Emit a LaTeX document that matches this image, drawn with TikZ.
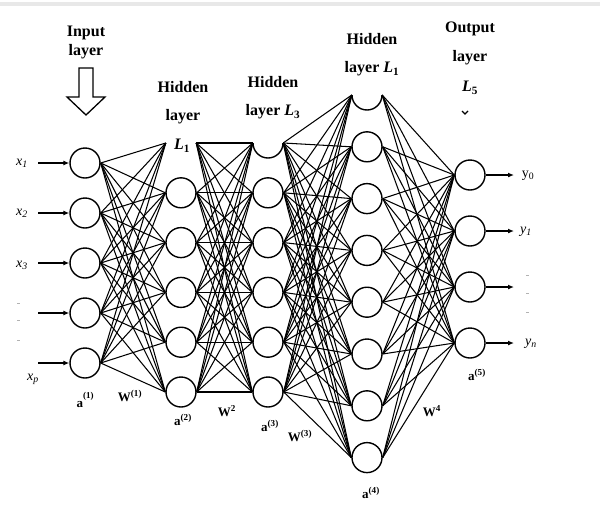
\documentclass[tikz,border=0pt]{standalone}
\usepackage{fontspec}
\setmainfont{Liberation Serif}
\usetikzlibrary{arrows.meta,calc,backgrounds}
\begin{document}
\begin{tikzpicture}[x=1pt,y=-1pt,
  neuron/.style={circle,draw,line width=1.4pt,fill=white,minimum size=30pt,inner sep=0pt},
  ghost/.style={circle,minimum size=30pt,inner sep=0pt},
  edge/.style={line width=1.05pt},
  io/.style={line width=1.3pt,-{Latex[length=6pt,width=5pt]}},
  lbl/.style={font=\fontsize{16}{16}\selectfont\bfseries,inner sep=0pt},
  var/.style={font=\fontsize{14}{14}\selectfont\itshape,inner sep=0pt},
  wlbl/.style={font=\fontsize{13}{13}\selectfont\bfseries,inner sep=0pt},
  dotm/.style={fill=gray!60}]

\useasboundingbox (0,0) rectangle (600,504);

% ---- layer 1 (input)
\foreach \i in {1,...,5}
  \node[neuron] (a\i) at (85,{163+50*(\i-1)}) {};
% ---- layer 2
\node[ghost] (b1) at (181,143) {};
\foreach \i in {2,...,6}
  \node[neuron] (b\i) at (181,{143+49.8*(\i-1)}) {};
% ---- layer 3
\node[ghost] (c1) at (268,143) {};
\foreach \i in {2,...,6}
  \node[neuron] (c\i) at (268,{143+49.8*(\i-1)}) {};
% ---- layer 4
\node[ghost] (d1) at (367,95) {};
\foreach \i in {2,...,8}
  \node[neuron] (d\i) at (367,{95+51.8*(\i-1)}) {};
% ---- layer 5 (output)
\foreach \i in {1,...,4}
  \node[neuron] (e\i) at (470,{175+56*(\i-1)}) {};

% half circles of the top nodes
\begin{scope}
  \clip ($(c1.west)+(-2,0)$) rectangle ($(c1.east)+(2,18)$);
  \draw[line width=1.4pt] (c1.center) circle[radius=15pt];
\end{scope}
\begin{scope}
  \clip ($(d1.west)+(-2,0)$) rectangle ($(d1.east)+(2,18)$);
  \draw[line width=1.4pt] (d1.center) circle[radius=15pt];
\end{scope}

% ---- connectors
\begin{scope}[on background layer]
  \fill[white] (0,0) rectangle (600,504);
  \fill[gray!18] (0,2) rectangle (600,6);
  \foreach \i in {1,...,5} \foreach \j in {1,...,6}
    \draw[edge] (a\i.east) -- (b\j.west);
  \foreach \i in {1,...,6} \foreach \j in {1,...,6}
    \draw[edge] (b\i.east) -- (c\j.west);
  \foreach \i in {1,...,6} \foreach \j in {1,...,8}
    \draw[edge] (c\i.east) -- (d\j.west);
  \foreach \i in {1,...,8} \foreach \j in {1,...,4}
    \draw[edge] (d\i.east) -- (e\j.west);
\end{scope}

% ---- input arrows
\foreach \i in {1,...,5} {
  \coordinate (xi\i) at (38,{163+50*(\i-1)});
  \draw[io] (xi\i) -- (a\i.west);
}
% ---- output arrows
\foreach \i in {1,...,4} {
  \coordinate (yo\i) at (514,{175+56*(\i-1)});
  \draw[io] (e\i.east) -- (yo\i);
}

% ---- input labels
\node[var] (lx1) at (22,163) {x\textsubscript{1}};
\node[var] (lx2) at (22,213) {x\textsubscript{2}};
\node[var] (lx3) at (22,265) {x\textsubscript{3}};
\node[var] (lxp) at (33,379) {x\textsubscript{p}};
\fill[dotm] (16.5,302.5) rectangle (19.5,304);
\fill[dotm] (16.5,319.5) rectangle (19.5,321);
\fill[dotm] (16.5,339.5) rectangle (19.5,341);

% ---- output labels
\node[var,font=\fontsize{14}{14}\selectfont] (ly0) at (528,176) {y\textsubscript{0}};
\node[var] (ly1) at (526,232) {y\textsubscript{1}};
\node[var] (lyn) at (531,344) {y\textsubscript{n}};
\fill[dotm] (526,274.5) rectangle (529,276);
\fill[dotm] (526,292.5) rectangle (529,294);
\fill[dotm] (526,311.5) rectangle (529,313);

% ---- top labels
\node[lbl] (tin1) at (86,33) {Input};
\node[lbl] (tin2) at (86,52) {layer};
\draw[line width=1.3pt,fill=white]
  (79,68) -- (93,68) -- (93,97) -- (105,97) -- (86,115) -- (67,97) -- (79,97) -- cycle;

\node[lbl] (th1a) at (183,87) {Hidden};
\node[lbl] (th1b) at (183,117) {layer};
\node[lbl] (th1c) at (182,146) {\textit{L}\textsubscript{1}};

\node[lbl] (th2a) at (273,82) {Hidden};
\node[lbl] (th2b) at (273,112) {layer \textit{L}\textsubscript{3}};

\node[lbl] (th3a) at (372,39) {Hidden};
\node[lbl] (th3b) at (372,69) {layer \textit{L}\textsubscript{1}};

\node[lbl] (tout1) at (470,29) {Output};
\node[lbl] (tout2) at (470,58) {layer};
\node[lbl] (tout3) at (470,88) {\textit{L}\textsubscript{5}};
\draw[line width=1.3pt] (462,111) -- (465,114) -- (468,111);

% ---- bottom labels
\node[wlbl] (la1) at (85,400) {a\raisebox{9pt}{\fontsize{9}{9}\selectfont(1)}};
\node[wlbl] (lw1) at (130,396) {W\textsuperscript{(1)}};
\node[wlbl] (la2) at (183,420) {a\textsuperscript{(2)}};
\node[wlbl] (lw2) at (227,411) {W\textsuperscript{2}};
\node[wlbl] (la3) at (270,426) {a\textsuperscript{(3)}};
\node[wlbl] (lw3) at (300,436) {W\textsuperscript{(3)}};
\node[wlbl] (la4) at (371,493) {a\textsuperscript{(4)}};
\node[wlbl] (lw4) at (432,411) {W\textsuperscript{4}};
\node[wlbl] (la5) at (477,375) {a\textsuperscript{(5)}};
\end{tikzpicture}
\end{document}
